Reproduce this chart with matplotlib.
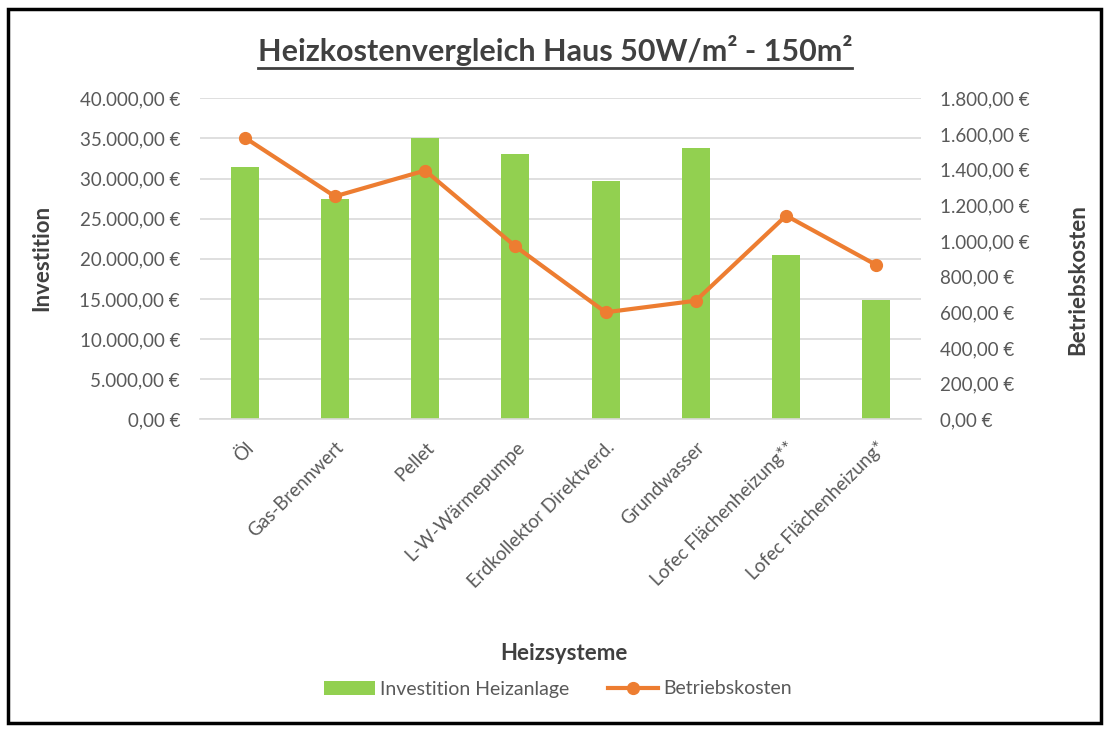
import matplotlib
matplotlib.use("Agg")
import matplotlib.pyplot as plt
from matplotlib.patches import Rectangle
from matplotlib.lines import Line2D
from matplotlib.patches import Patch
from matplotlib.ticker import FuncFormatter, MultipleLocator

plt.rcParams['font.family'] = ['Lato', 'DejaVu Sans']

categories = ["Öl", "Gas-Brennwert", "Pellet", "L-W-Wärmepumpe",
              "Erdkollektor Direktverd.", "Grundwasser",
              "Lofec Flächenheizung**", "Lofec Flächenheizung*"]
investition = [31450, 27400, 35000, 33100, 29700, 33800, 20450, 14900]
betriebskosten = [1580, 1250, 1395, 970, 600, 665, 1142, 865]

GREEN = "#92d050"
ORANGE = "#ed7d31"
TXT = "#595959"
DARK = "#404040"
GRID = "#d9d9d9"

W, H = 1112, 731
fig = plt.figure(figsize=(W / 100, H / 100), dpi=100)
ax = fig.add_axes([199.5 / W, 1 - 419.3 / H, 722 / W, 321 / H])
ax2 = ax.twinx()

x = list(range(len(categories)))
ax.bar(x, investition, width=0.31, color=GREEN, zorder=2)
ax2.plot(x, betriebskosten, color=ORANGE, lw=3, marker='o', ms=8.5, zorder=3)

ax.set_xlim(-0.5, len(categories) - 0.5)
ax.set_ylim(0, 40000)
ax2.set_ylim(0, 1800)
ax.yaxis.set_major_locator(MultipleLocator(5000))
ax2.yaxis.set_major_locator(MultipleLocator(200))


def eur(v, pos=None):
    s = f"{v:,.2f}"
    s = s.replace(",", "X").replace(".", ",").replace("X", ".")
    return s + " €"


ax.yaxis.set_major_formatter(FuncFormatter(eur))
ax2.yaxis.set_major_formatter(FuncFormatter(eur))

ax.grid(axis='y', color=GRID, lw=1.2, zorder=0)
ax.set_axisbelow(True)
for a in (ax, ax2):
    for s in a.spines.values():
        s.set_visible(False)
    a.tick_params(length=0, labelsize=13.5, labelcolor=TXT)
ax.spines['bottom'].set_visible(True)
ax.spines['bottom'].set_color(GRID)
ax.spines['bottom'].set_linewidth(1.2)
ax.tick_params(axis='y', pad=14)
ax2.tick_params(axis='y', pad=13)

ax.set_xticks(x)
ax.set_xticklabels(categories, rotation=45, ha='right', rotation_mode='anchor',
                   fontsize=13.5, color=TXT)
ax.tick_params(axis='x', pad=14)

fig.text(42 / W, 1 - 258 / H, "Investition", rotation=90, ha='center',
         va='center', fontsize=16, fontweight='bold', color=DARK)
fig.text(1078 / W, 1 - 280 / H, "Betriebskosten", rotation=90, ha='center',
         va='center', fontsize=16, fontweight='bold', color=DARK)
fig.text(564 / W, 1 - 654 / H, "Heizsysteme", ha='center', va='center',
         fontsize=16, fontweight='bold', color=DARK)

# title with underline
title = fig.text(555 / W, 1 - 50 / H, "Heizkostenvergleich Haus 50W/m² - 150m²",
                 ha='center', va='center', fontsize=22, fontweight='bold',
                 color=DARK)
fig.canvas.draw()
bb = title.get_window_extent()
uy = 1 - 67.5 / H
fig.add_artist(Line2D([bb.x0 / W, bb.x1 / W], [uy, uy], color=DARK,
                      lw=2, transform=fig.transFigure))

# legend
handles = [Patch(facecolor=GREEN, edgecolor='none'),
           Line2D([0], [0], color=ORANGE, lw=3, marker='o', ms=8.5)]
fig.legend(handles, ["Investition Heizanlage", "Betriebskosten"],
           loc='center', bbox_to_anchor=(558 / W, 1 - 689 / H), ncol=2,
           frameon=False, fontsize=14, labelcolor=TXT, handlelength=2.6,
           handletextpad=0.25, columnspacing=2.0)

# outer frame
fig.add_artist(Rectangle((8 / W, 1 - 722.5 / H), (1101 - 8) / W, (722.5 - 9) / H,
                         transform=fig.transFigure, fill=False,
                         edgecolor='black', lw=2.5))

fig.savefig("out.png", dpi=100, facecolor='white')
